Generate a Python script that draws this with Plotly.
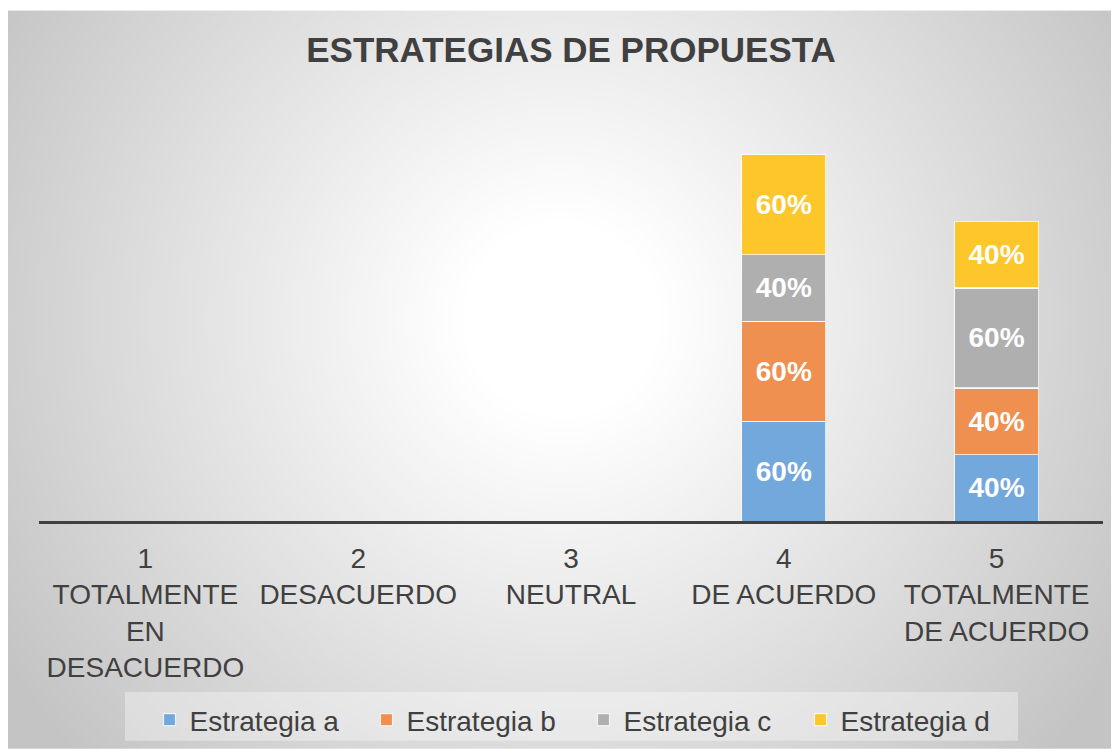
import base64, struct, zlib
import numpy as np
import plotly.graph_objects as go

# ---- data ----
categories = ["1<br>TOTALMENTE<br>EN<br>DESACUERDO", "2<br>DESACUERDO", "3<br>NEUTRAL",
              "4<br>DE ACUERDO", "5<br>TOTALMENTE<br>DE ACUERDO"]
series_names = ["Estrategia a", "Estrategia b", "Estrategia c", "Estrategia d"]
estrategia_a = [None, None, None, 0.60, 0.40]
estrategia_b = [None, None, None, 0.60, 0.40]
estrategia_c = [None, None, None, 0.40, 0.60]
estrategia_d = [None, None, None, 0.60, 0.40]
colors = ["#72a8db", "#ef8f50", "#afafaf", "#fdc62b"]
title_text = "ESTRATEGIAS DE PROPUESTA"

# ---- radial gradient background (style only) ----
def gradient_png(w, h, cx, cy, scale):
    yy, xx = np.mgrid[0:h, 0:w].astype(float)
    d = np.hypot((xx + 0.5) * scale - cx, (yy + 0.5) * scale - cy)
    t = np.clip((d - 100) / 560.0, 0, 1)
    g = (255 - 59 * t).astype(np.uint8)
    raw = b"".join(b"\x00" + g[r].tobytes() for r in range(h))
    def chunk(tag, data):
        c = struct.pack(">I", len(data)) + tag + data
        return c + struct.pack(">I", zlib.crc32(tag + data) & 0xffffffff)
    png = b"\x89PNG\r\n\x1a\n"
    png += chunk(b"IHDR", struct.pack(">IIBBBBB", w, h, 8, 0, 0, 0, 0))
    png += chunk(b"IDAT", zlib.compress(raw, 9))
    png += chunk(b"IEND", b"")
    return "data:image/png;base64," + base64.b64encode(png).decode()

W, H = 1111, 745
L, R, T, B = 31, 16, 92, 229
pw, ph = W - L - R, H - T - B
frame_x0, frame_y0 = 0, 2
fw, fh = W - frame_x0, H - frame_y0
bg = gradient_png(fw // 2, fh // 2, 553, 310, 2)

def px_to_paper_x(fx):
    return (fx - L) / pw

def px_to_paper_y(fy):
    return (H - B - fy) / ph

fig = go.Figure()
for name, vals, col in zip(series_names, [estrategia_a, estrategia_b, estrategia_c, estrategia_d], colors):
    fig.add_trace(go.Bar(
        name=name, x=categories, y=vals,
        marker=dict(color=col, line=dict(color="rgba(255,255,255,0.75)", width=1.2)),
        texttemplate="<b>%{y:.0%}</b>", textposition="inside", insidetextanchor="middle",
        textangle=0,
        textfont=dict(color="white", size=28, family="Liberation Sans, Arial"),
        hoverinfo="skip",
    ))

fig.update_layout(
    width=W, height=H,
    barmode="stack", bargap=0.605,
    margin=dict(l=L, r=R, t=T, b=B),
    paper_bgcolor="white", plot_bgcolor="rgba(0,0,0,0)",
    font=dict(family="Liberation Sans, Arial", color="#404040"),
    title=dict(text="<b>" + title_text + "</b>", x=563 / W, xanchor="center",
               y=1 - 42 / H, yanchor="middle", yref="container",
               font=dict(size=35, color="#404040", family="Liberation Sans, Arial")),
    xaxis=dict(showline=True, linecolor="#404040", linewidth=3, ticks="",
               ticklabelstandoff=10,
               tickfont=dict(size=28, color="#404040"), showgrid=False, fixedrange=True),
    yaxis=dict(visible=False, range=[0, ph / 167.7], fixedrange=True),
    showlegend=True,
    legend=dict(orientation="h", xref="container", yref="container",
                x=141.5 / W, xanchor="left", y=1 - 712 / H, yanchor="middle",
                bgcolor="rgba(0,0,0,0)", font=dict(size=28, color="#404040"),
                entrywidth=172, traceorder="normal"),
    shapes=[dict(type="rect", xref="paper", yref="paper",
                 x0=px_to_paper_x(117), x1=px_to_paper_x(1010),
                 y0=px_to_paper_y(737), y1=px_to_paper_y(688),
                 fillcolor="rgba(255,255,255,0.35)", line=dict(width=0), layer="below")],
    images=[dict(source=bg, xref="paper", yref="paper",
                 x=(frame_x0 - L) / pw, y=(H - B - frame_y0) / ph,
                 sizex=fw / pw, sizey=fh / ph, xanchor="left", yanchor="top",
                 sizing="stretch", layer="below")],
)

fig.write_html("out.html")
